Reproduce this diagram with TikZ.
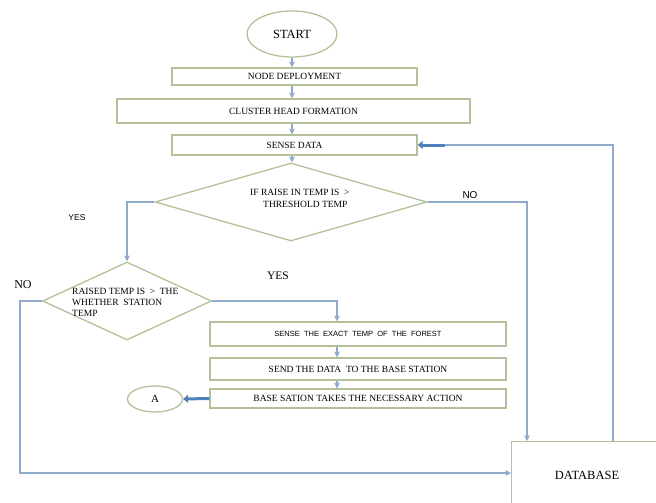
\documentclass[tikz,border=0pt]{standalone}
\usepackage{fontspec}
\setmainfont{Liberation Serif}
\newfontfamily\sansf{Liberation Sans}
\usetikzlibrary{shapes.geometric,arrows.meta}
\definecolor{boxc}{HTML}{B4C09A}
\definecolor{linec}{HTML}{8FAACB}
\definecolor{arrc}{HTML}{4F81BD}
\begin{document}
\begin{tikzpicture}[x=1pt,y=-1pt,
  box/.style={draw=boxc, line width=1.3pt, fill=white, inner sep=0pt, font=\fontsize{9.5}{10}\selectfont},
  dia/.style={diamond, draw=boxc, line width=1.3pt, inner sep=0pt, aspect=3},
  conn/.style={draw=linec, line width=1.2pt, -{Stealth[length=6pt,width=6pt]}},
  plain/.style={draw=linec, line width=1.2pt},
  thk/.style={draw=arrc, line width=3pt, -{Triangle[length=5pt,width=8pt]}},
  lbl/.style={inner sep=0pt}]
\useasboundingbox (0,0) rectangle (656,503);
\clip (0,0) rectangle (656,503);
% nodes
\node[ellipse, draw=boxc, line width=1.3pt, minimum width=90pt, minimum height=46pt, inner sep=0pt, font=\fontsize{12.5}{13}\selectfont] (start) at (292,34) {START};
\node[box, minimum width=245pt, minimum height=17pt] (nd) at (294.5,76.5) {NODE DEPLOYMENT};
\node[box, minimum width=353pt, minimum height=24pt] (chf) at (293.5,111) {CLUSTER HEAD FORMATION};
\node[box, minimum width=245pt, minimum height=20pt] (sense) at (294.5,145) {SENSE DATA};
\node[dia, minimum width=272pt, minimum height=78pt] (d1) at (291,202) {};
\node[lbl, anchor=west, align=left, font=\fontsize{9.5}{12}\selectfont] (d1t) at (250,198) {IF RAISE IN TEMP IS \ >\\\hspace{13pt}THRESHOLD TEMP};
\node[dia, minimum width=169pt, minimum height=78pt] (d2) at (127,301) {};
\node[lbl, anchor=west, align=left, font=\fontsize{9.5}{11}\selectfont] (d2t) at (72,302) {RAISED TEMP IS \ > \ THE\\WHETHER \ STATION\\TEMP};
\node[box, minimum width=296pt, minimum height=24pt, font=\sansf\fontsize{7.5}{8}\selectfont] (exact) at (358,334) {SENSE \ THE \ EXACT \ TEMP \ OF \ THE \ FOREST};
\node[box, minimum width=296pt, minimum height=22pt] (send) at (358,369) {SEND THE DATA \ TO THE BASE STATION};
\node[box, minimum width=296pt, minimum height=19pt] (base) at (358,398.5) {BASE SATION TAKES THE NECESSARY ACTION};
\node[ellipse, draw=boxc, line width=1.3pt, minimum width=55pt, minimum height=26pt, inner sep=0pt, font=\fontsize{11}{12}\selectfont] (A) at (155,399) {A};
\node[draw=boxc, line width=1.3pt, anchor=north west, minimum width=220pt, minimum height=120pt, inner sep=0pt] (db) at (511,441) {};
\node[lbl, font=\fontsize{12.5}{13}\selectfont] (dbt) at (587,475) {DATABASE};
% labels
\node[lbl, font=\sansf\fontsize{8.5}{9}\selectfont] (yes1) at (77,218) {YES};
\node[lbl, font=\fontsize{12}{12}\selectfont] (no1) at (23,285) {NO};
\node[lbl, font=\fontsize{11.5}{12}\selectfont] (yes2) at (278,276) {YES};
\node[lbl, font=\sansf\fontsize{10}{11}\selectfont] (no2) at (470,195) {NO};
% coordinates
\coordinate (lftc) at (20,473);
\coordinate (fbk) at (445,145);
% connectors
\draw[conn] (start.south) -- (start.south |- nd.north);
\draw[conn] (start.south |- nd.south) -- (start.south |- chf.north);
\draw[conn] (start.south |- chf.south) -- (start.south |- sense.north);
\draw[conn] (start.south |- sense.south) -- (start.south |- d1.north);
\draw[conn] (d1.west) -| (d2.north);
\draw[conn] (d2.east) -| ([xshift=-21pt]exact.north);
\draw[conn] ([xshift=-21pt]exact.south) -- ([xshift=-21pt]send.north);
\draw[conn] ([xshift=-21pt]send.south) -- ([xshift=-21pt]base.north);
\draw[thk] (base.west) -- (A.east);
\draw[conn] (d2.west) -| (lftc) |- ([yshift=-32pt]db.north west);
\draw[conn] (d1.east) -| ([xshift=16pt]db.north west);
\draw[plain] ([xshift=102pt]db.north west) |- (fbk);
\draw[thk] (fbk) -- (sense.east);
\end{tikzpicture}
\end{document}
